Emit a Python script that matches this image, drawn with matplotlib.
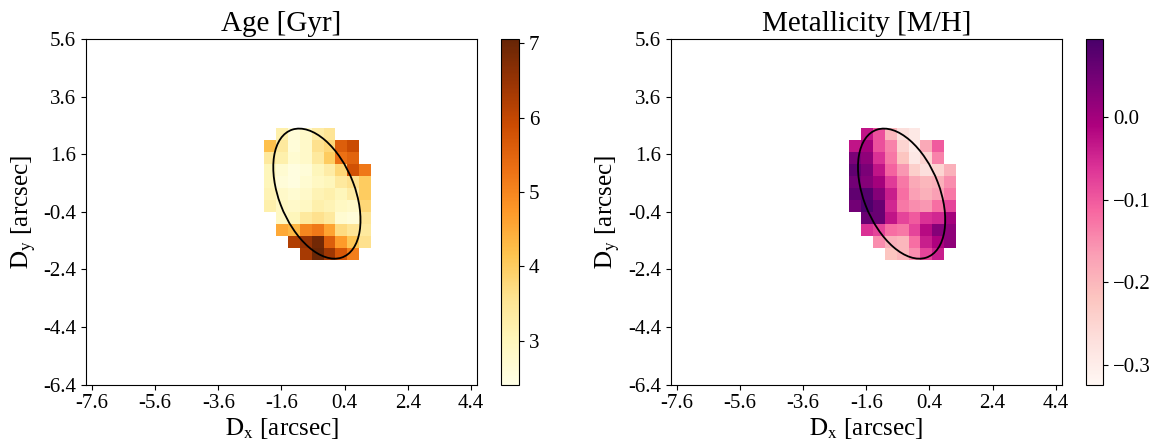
import numpy as np
import matplotlib
matplotlib.use('Agg')
import matplotlib.pyplot as plt
from matplotlib.patches import Ellipse

plt.rcParams['font.family'] = 'serif'
plt.rcParams['font.serif'] = ['Liberation Serif', 'DejaVu Serif']
plt.rcParams['mathtext.fontset'] = 'stix'

# tick labels (arcsec)
x_tick_vals = [-7.6, -5.6, -3.6, -1.6, 0.4, 2.4, 4.4]
y_tick_vals = [5.6, 3.6, 1.6, -0.4, -2.4, -4.4, -6.4]
x_tick_labels = ['-7.6', '-5.6', '-3.6', '-1.6', '0.4', '2.4', '4.4']
y_tick_labels = ['5.6', '3.6', '1.6', '-0.4', '-2.4', '-4.4', '-6.4']

# full map grid and where the fitted spaxels sit in it
n_rows, n_cols = 30, 33
blob_row0, blob_col0 = 8, 15

nan = np.nan
# age map [Gyr], 11 rows x 9 cols (top row first)
age_blob = np.array([
    [nan, 3.2, 2.6, 2.8, 3.3, 3.5, nan, nan, nan],
    [4.2, 3.4, 2.6, 2.8, 3.6, 3.8, 5.6, 5.9, nan],
    [3.4, 3.2, 2.7, 2.8, 3.4, 4.0, 5.3, 5.5, nan],
    [3.0, 2.7, 2.5, 2.6, 3.0, 3.3, 3.8, 5.8, 5.2],
    [3.0, 2.6, 2.5, 2.7, 2.9, 3.0, 3.4, 3.6, 4.0],
    [3.1, 2.8, 2.7, 2.8, 3.1, 3.2, 3.0, 3.3, 4.0],
    [3.2, 2.9, 2.8, 2.9, 3.2, 3.1, 2.9, 2.8, 3.8],
    [nan, 2.9, 3.0, 3.4, 3.6, 3.4, 2.7, 2.6, 3.5],
    [nan, 4.5, 4.3, 5.0, 5.2, 4.6, 3.7, 3.5, 3.4],
    [nan, nan, 6.2, 6.5, 6.9, 5.6, 4.7, 4.1, 3.6],
    [nan, nan, nan, 6.3, 7.0, 6.4, 5.7, 5.1, nan],
])

# metallicity map [M/H]
met_blob = np.array([
    [nan, -0.03, -0.09, -0.20, -0.27, -0.29, nan, nan, nan],
    [-0.03, 0.00, -0.09, -0.14, -0.25, -0.30, -0.18, -0.10, nan],
    [0.04, 0.02, -0.06, -0.13, -0.22, -0.29, -0.25, -0.14, nan],
    [0.07, 0.04, -0.03, -0.11, -0.16, -0.24, -0.27, -0.25, -0.19],
    [0.05, 0.03, 0.00, -0.07, -0.13, -0.18, -0.20, -0.19, -0.15],
    [0.07, 0.08, 0.03, -0.04, -0.12, -0.17, -0.19, -0.17, -0.13],
    [0.05, 0.09, 0.06, -0.05, -0.13, -0.15, -0.16, -0.12, -0.08],
    [nan, 0.06, 0.06, -0.03, -0.08, -0.10, -0.06, -0.05, 0.00],
    [nan, -0.06, -0.08, -0.12, -0.13, -0.08, -0.02, 0.03, 0.02],
    [nan, nan, -0.15, -0.19, -0.20, -0.12, -0.04, -0.01, 0.02],
    [nan, nan, nan, -0.22, -0.20, -0.15, -0.08, -0.04, nan],
])

age_range = (2.41, 7.06)
met_range = (-0.324, 0.095)

# effective ellipse: centre, full axes, angle
ell_center = (-0.48, 0.23)
ell_width, ell_height, ell_angle = 4.71, 2.42, -70.8

dx = (x_tick_vals[-1] - x_tick_vals[0]) / (n_cols - 1)
dy = (y_tick_vals[0] - y_tick_vals[-1]) / (n_rows - 1)
extent = [x_tick_vals[0] - dx / 2, x_tick_vals[-1] + dx / 2,
          y_tick_vals[-1] - dy / 2, y_tick_vals[0] + dy / 2]


def full_map(blob):
    m = np.full((n_rows, n_cols), np.nan)
    m[blob_row0:blob_row0 + blob.shape[0], blob_col0:blob_col0 + blob.shape[1]] = blob
    return m


fig = plt.figure(figsize=(11.62, 4.48), dpi=100)

panels = [
    (age_blob, 'YlOrBr', age_range, 'Age [Gyr]', [3, 4, 5, 6, 7],
     [0.0740, 0.1417, 0.3365, 0.7712], [0.4312, 0.1417, 0.0155, 0.7712]),
    (met_blob, 'RdPu', met_range, 'Metallicity [M/H]', [0.0, -0.1, -0.2, -0.3],
     [0.5772, 0.1417, 0.3365, 0.7712], [0.9343, 0.1417, 0.0152, 0.7712]),
]

for blob, cmap, (vmin, vmax), title, cticks, apos, cpos in panels:
    ax = fig.add_axes(apos)
    im = ax.imshow(full_map(blob), cmap=cmap, vmin=vmin, vmax=vmax,
                   extent=extent, origin='upper', aspect='auto',
                   interpolation='nearest')
    ax.add_patch(Ellipse(ell_center, ell_width, ell_height, angle=ell_angle,
                         fill=False, edgecolor='black', linewidth=1.3))
    ax.set_xlim(extent[0], extent[1])
    ax.set_ylim(y_tick_vals[-1], y_tick_vals[0])
    ax.set_xticks(x_tick_vals)
    ax.set_xticklabels(x_tick_labels)
    ax.set_yticks(y_tick_vals)
    ax.set_yticklabels(y_tick_labels)
    ax.tick_params(labelsize=15)
    ax.set_xlabel(r'$\mathrm{D_x}$ [arcsec]', fontsize=18, labelpad=2)
    ax.set_ylabel(r'$\mathrm{D_y}$ [arcsec]', fontsize=18, labelpad=4)
    ax.set_title(title, fontsize=21, pad=6)

    cax = fig.add_axes(cpos)
    cb = fig.colorbar(im, cax=cax)
    cb.set_ticks(cticks)
    cb.ax.tick_params(labelsize=15)

fig.savefig('out.png', dpi=100)
